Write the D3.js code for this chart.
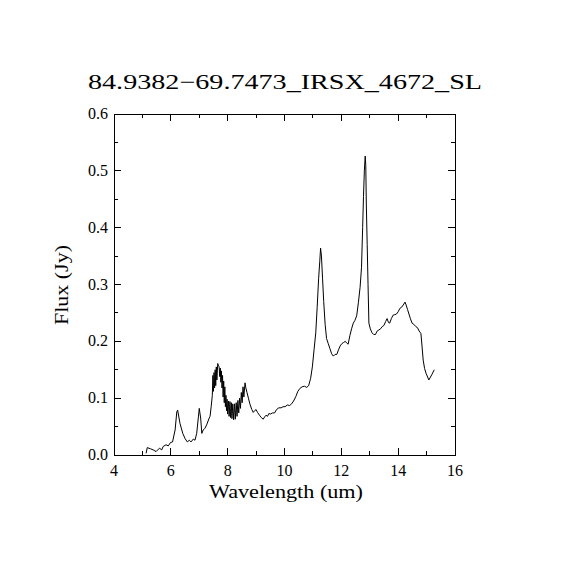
<!DOCTYPE html>
<html><head><meta charset="utf-8">
<script src="https://cdn.jsdelivr.net/npm/d3@7"></script>
<style>html,body{margin:0;padding:0;background:#fff;}svg{display:block;}</style>
</head><body>
<script>
const titleText = "84.9382\u221269.7473_IRSX_4672_SL";
const xLabel = "Wavelength (um)";
const yLabel = "Flux (Jy)";
const xTicks = [4, 6, 8, 10, 12, 14, 16];
const yTicks = [0.0, 0.1, 0.2, 0.3, 0.4, 0.5, 0.6];
const wavelength = [5.13,5.17,5.28,5.38,5.48,5.60,5.68,5.73,5.83,5.91,5.99,6.06,6.15,6.21,6.24,6.32,6.42,6.50,6.58,6.65,6.71,6.79,6.85,6.91,6.97,7.00,7.05,7.09,7.14,7.20,7.26,7.35,
7.38,7.42,7.46,7.48,7.50,7.52,7.54,7.56,7.58,7.60,7.62,7.65,7.67,7.70,7.72,7.74,7.76,7.78,7.80,7.82,7.84,7.86,7.88,7.90,7.92,7.94,7.96,7.98,8.00,8.03,8.05,8.08,8.10,8.13,8.15,8.18,8.21,8.24,8.27,8.30,8.33,8.36,8.39,8.42,8.45,8.48,8.51,8.54,8.57,8.61,8.64,8.68,8.73,8.78,8.85,8.90,8.95,9.00,9.05,9.12,9.18,9.25,9.30,9.35,9.40,9.45,9.50,9.58,9.65,9.72,9.80,9.88,9.95,10.02,10.10,10.18,10.25,10.32,10.40,10.47,10.54,10.62,10.70,10.78,10.85,10.92,10.98,11.04,11.10,11.15,11.20,11.24,11.27,11.30,11.34,11.38,11.43,11.48,11.54,11.60,11.66,11.72,11.78,11.84,11.90,11.96,12.02,12.08,12.14,12.19,12.24,12.30,12.36,12.42,12.48,12.54,12.60,12.66,12.71,12.75,12.78,12.81,12.84,12.86,12.88,12.91,12.94,12.97,13.02,13.08,13.14,13.20,13.26,13.32,13.38,13.44,13.50,13.56,13.61,13.66,13.70,13.76,13.82,13.88,13.94,14.00,14.06,14.12,14.18,14.24,14.28,14.33,14.38,14.43,14.49,14.55,14.62,14.68,14.74,14.80,14.83,14.88,14.93,14.98,15.08,15.18,15.27];
const flux = [0.003,0.013,0.011,0.009,0.006,0.012,0.009,0.015,0.018,0.016,0.022,0.023,0.044,0.076,0.079,0.056,0.038,0.029,0.023,0.026,0.023,0.028,0.026,0.038,0.067,0.082,0.065,0.038,0.044,0.047,0.053,0.065,
0.068,0.085,0.105,0.140,0.112,0.145,0.118,0.150,0.122,0.155,0.132,0.161,0.158,0.155,0.138,0.153,0.128,0.148,0.118,0.140,0.102,0.130,0.092,0.120,0.085,0.105,0.078,0.098,0.072,0.095,0.068,0.094,0.066,0.092,0.064,0.090,0.062,0.090,0.063,0.092,0.068,0.096,0.074,0.100,0.082,0.110,0.092,0.120,0.102,0.127,0.118,0.110,0.100,0.090,0.080,0.075,0.078,0.080,0.075,0.070,0.066,0.063,0.067,0.070,0.068,0.073,0.072,0.074,0.074,0.080,0.083,0.083,0.085,0.085,0.088,0.087,0.090,0.095,0.103,0.112,0.117,0.120,0.121,0.119,0.122,0.135,0.155,0.185,0.215,0.260,0.310,0.340,0.364,0.350,0.310,0.270,0.230,0.205,0.196,0.187,0.178,0.174,0.177,0.177,0.185,0.192,0.196,0.198,0.200,0.197,0.195,0.210,0.222,0.232,0.237,0.245,0.268,0.295,0.330,0.400,0.455,0.500,0.526,0.510,0.440,0.370,0.300,0.232,0.222,0.215,0.212,0.212,0.218,0.220,0.222,0.226,0.228,0.235,0.240,0.233,0.232,0.240,0.246,0.247,0.248,0.252,0.258,0.260,0.264,0.269,0.264,0.256,0.248,0.240,0.232,0.230,0.226,0.224,0.218,0.214,0.197,0.167,0.152,0.144,0.132,0.141,0.150];

const W = 570, H = 570;
const m = {left:114, right:455, top:114, bottom:455};
const svg = d3.select("body").append("svg").attr("width", W).attr("height", H);
const x = d3.scaleLinear().domain([4,16]).range([m.left, m.right]);
const y = d3.scaleLinear().domain([0,0.6]).range([m.bottom, m.top]);
const font = "'Liberation Serif', 'DejaVu Serif', serif";

// frame
svg.append("rect").attr("x", m.left).attr("y", m.top)
  .attr("width", m.right - m.left).attr("height", m.bottom - m.top)
  .attr("fill", "none").attr("stroke", "#000").attr("stroke-width", 1)
  .attr("shape-rendering", "crispEdges");

const xMinor = d3.range(4, 16.01, 1);
const yMinor = d3.range(0, 0.601, 0.05);
const g = svg.append("g").attr("stroke", "#000").attr("stroke-width", 1).attr("shape-rendering", "crispEdges");
xMinor.forEach(v => {
  const major = Math.round(v) % 2 === 0;
  const L = major ? 7 : 4;
  g.append("line").attr("x1", x(v)).attr("x2", x(v)).attr("y1", m.bottom).attr("y2", m.bottom - L);
  g.append("line").attr("x1", x(v)).attr("x2", x(v)).attr("y1", m.top).attr("y2", m.top + L);
});
yMinor.forEach((v, i) => {
  const L = (i % 2 === 0) ? 7 : 4;
  g.append("line").attr("y1", y(v)).attr("y2", y(v)).attr("x1", m.left).attr("x2", m.left + L);
  g.append("line").attr("y1", y(v)).attr("y2", y(v)).attr("x1", m.right).attr("x2", m.right - L);
});

// tick labels
svg.append("g").selectAll("text").data(xTicks).join("text")
  .attr("x", d => x(d)).attr("y", 476).attr("text-anchor", "middle")
  .attr("font-family", font).attr("font-size", 16).text(d => d);
svg.append("g").selectAll("text").data(yTicks).join("text")
  .attr("x", 108).attr("y", d => y(d) + 5).attr("text-anchor", "end")
  .attr("font-family", font).attr("font-size", 16).text(d => d.toFixed(1));

// axis labels & title
svg.append("text").attr("x", 286).attr("y", 498).attr("text-anchor", "middle")
  .attr("font-family", font).attr("font-size", 18).attr("textLength", 154)
  .attr("lengthAdjust", "spacingAndGlyphs").text(xLabel);
svg.append("text").attr("transform", "translate(68,285) rotate(-90)").attr("text-anchor", "middle")
  .attr("font-family", font).attr("font-size", 18).attr("textLength", 80)
  .attr("lengthAdjust", "spacingAndGlyphs").text(yLabel);
svg.append("text").attr("x", 285).attr("y", 89).attr("text-anchor", "middle")
  .attr("font-family", font).attr("font-size", 21).attr("textLength", 394)
  .attr("lengthAdjust", "spacingAndGlyphs").text(titleText);

// spectrum
const pts = wavelength.map((w, i) => [w, flux[i]]);
svg.append("path").datum(pts)
  .attr("fill", "none").attr("stroke", "#000").attr("stroke-width", 1)
  .attr("d", d3.line().x(d => x(d[0])).y(d => y(d[1])));
</script>
</body></html>
